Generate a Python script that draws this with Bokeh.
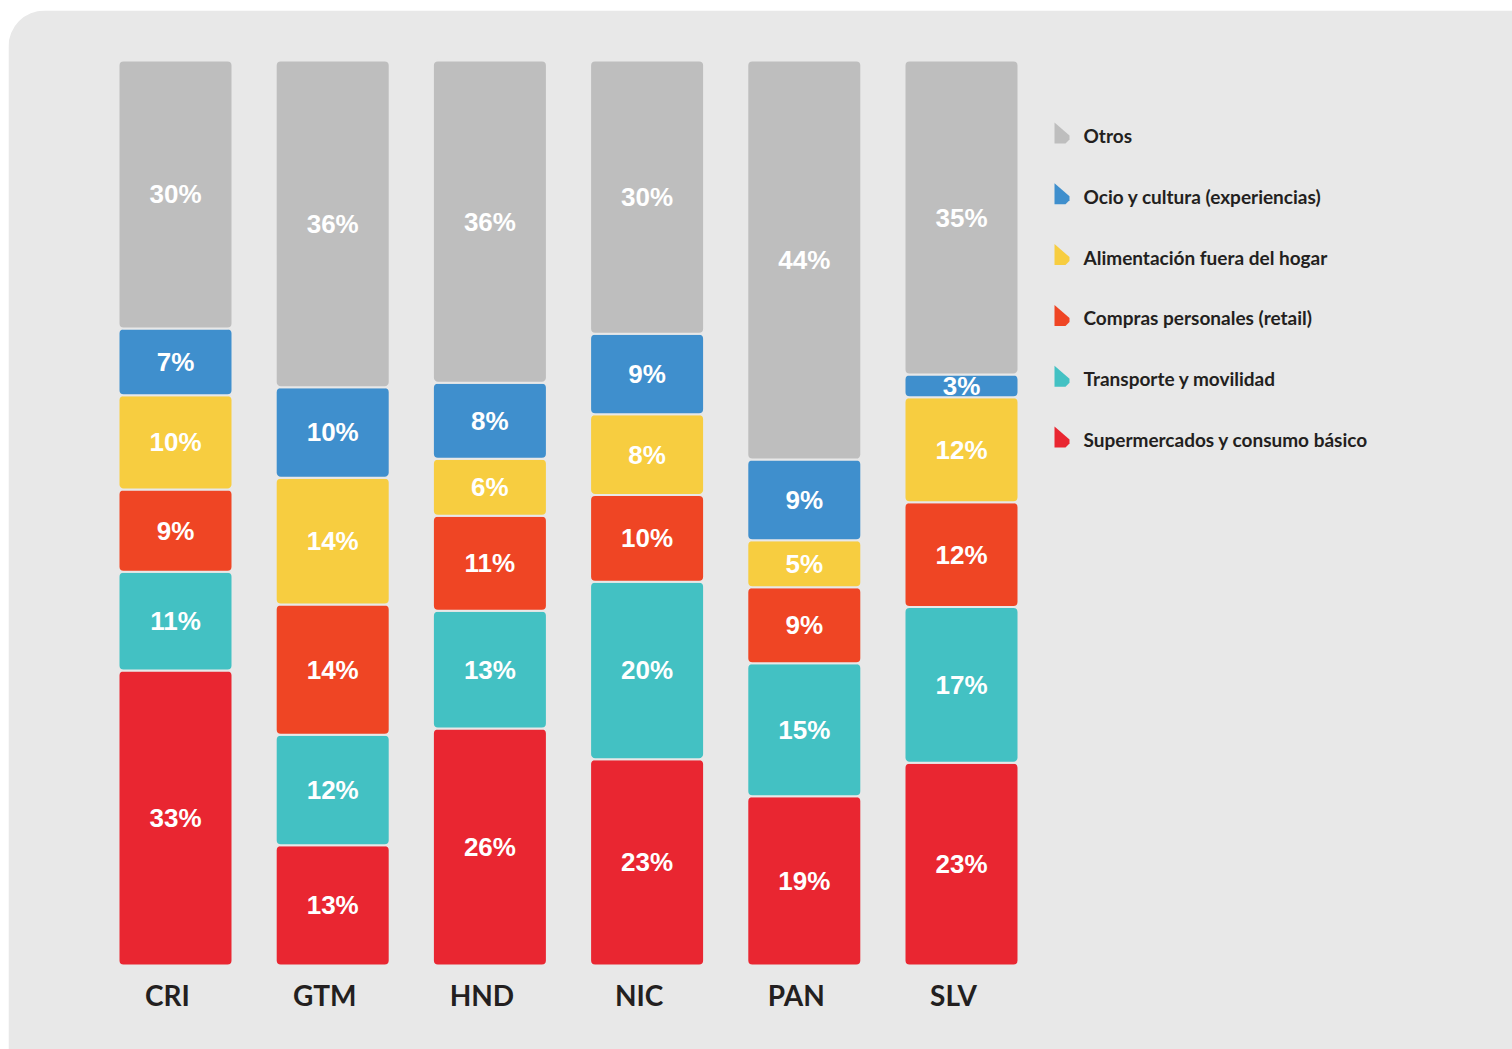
import numpy as np
from bokeh.plotting import figure
from bokeh.models import ColumnDataSource, Range1d, BoxAnnotation
from bokeh.core.properties import value
from bokeh.embed import file_html
from bokeh.resources import INLINE

# ---- data ----
countries = ["CRI", "GTM", "HND", "NIC", "PAN", "SLV"]
segments = ["Supermercados y consumo básico", "Transporte y movilidad",
            "Compras personales (retail)", "Alimentación fuera del hogar",
            "Ocio y cultura (experiencias)", "Otros"]
# shares (%) as drawn
supermercados = [32.6, 13.3, 26.2, 22.8, 18.7, 22.4]
transporte = [10.9, 12.2, 13.0, 19.6, 14.7, 17.2]
compras = [9.1, 14.4, 10.5, 9.6, 8.4, 11.6]
alimentacion = [10.4, 14.0, 6.3, 8.9, 5.2, 11.6]
ocio = [7.4, 10.0, 8.4, 8.9, 8.9, 2.5]
otros = [29.6, 36.1, 35.6, 30.2, 44.1, 34.7]
# printed labels (%)
lbl_supermercados = [33, 13, 26, 23, 19, 23]
lbl_transporte = [11, 12, 13, 20, 15, 17]
lbl_compras = [9, 14, 11, 10, 9, 12]
lbl_alimentacion = [10, 14, 6, 8, 5, 12]
lbl_ocio = [7, 10, 8, 9, 9, 3]
lbl_otros = [30, 36, 36, 30, 44, 35]
colors = ["#e92631", "#43c1c3", "#ef4524", "#f7cd40", "#3f8fcd", "#bebebe"]

series = [supermercados, transporte, compras, alimentacion, ocio, otros]
labels = [lbl_supermercados, lbl_transporte, lbl_compras, lbl_alimentacion, lbl_ocio, lbl_otros]

# ---- layout constants (pixels) ----
W, H = 1512, 1049
PANEL_LEFT, PANEL_TOP = 8, 10
XS = 157.2      # px per category
YS = 9.05       # px per percent
X0 = 175 - PANEL_LEFT   # frame px of first bar centre
Y0 = 965 - PANEL_TOP    # frame px (from top) of zero line
FW, FH = W - PANEL_LEFT, H - PANEL_TOP
BG = "#e8e8e8"
TXT = "#231f20"

p = figure(width=W, height=H, output_backend="svg", toolbar_location=None,
           title=None, x_axis_location=None, y_axis_location=None,
           x_range=Range1d(-X0 / XS, (FW - X0) / XS),
           y_range=Range1d(-(FH - Y0) / YS, Y0 / YS),
           min_border_left=PANEL_LEFT, min_border_top=PANEL_TOP,
           min_border_right=0, min_border_bottom=0)
p.grid.visible = False
p.outline_line_color = None
p.background_fill_color = "white"
p.border_fill_color = "white"

panel = BoxAnnotation(fill_color=BG, fill_alpha=1, line_color=None, level="underlay",
                      border_radius=dict(top_left=36, top_right=0, bottom_right=0, bottom_left=0))
p.add_layout(panel)

xs = np.arange(len(countries), dtype=float)
totals = np.sum(np.array(series, dtype=float), axis=0)
bottom = np.zeros(len(countries))

for name, vals, labs, col in zip(segments, series, labels, colors):
    v = np.array(vals, dtype=float)
    h = v / totals * 100.0
    top = bottom + h
    src = ColumnDataSource(dict(x=xs, bottom=bottom.copy(), top=top.copy(),
                                mid=(bottom + top) / 2,
                                label=[f"{int(a)}%" for a in labs]))
    p.vbar(x="x", bottom="bottom", top="top", width=114 / XS, source=src,
           fill_color=col, line_color=BG, line_width=2, border_radius=5)
    p.text(x="x", y="mid", text="label", source=src, text_color="white",
           text_font=value("Liberation Sans"), text_font_style="bold",
           text_font_size="26px", text_align="center", text_baseline="middle")
    bottom = top

# category labels
csrc = ColumnDataSource(dict(x=xs, y=np.zeros(len(countries)), t=countries))
p.text(x="x", y="y", text="t", source=csrc, text_color=TXT,
       text_font=value("Lato"), text_font_style="bold", text_font_size="28px",
       text_align="center", text_baseline="middle", x_offset=-8, y_offset=29)

# legend (top to bottom: reverse of stacking order)
leg_names = segments[::-1]
leg_cols = colors[::-1]
leg_y_px = [135 + 60.8 * k for k in range(len(leg_names))]


def dx(px):
    return (px - 175) / XS


def dy(py):
    return (965 - py) / YS


shape = [(0, -13), (15, 0), (15, 4), (11, 8), (0, 8)]
pxs, pys = [], []
for yc in leg_y_px:
    pxs.append([dx(1054 + a) for a, b in shape])
    pys.append([dy(yc + b) for a, b in shape])
p.patches(pxs, pys, fill_color=leg_cols, line_color=None)

lsrc = ColumnDataSource(dict(x=[dx(1083)] * len(leg_names), y=[dy(v) for v in leg_y_px], t=leg_names))
p.text(x="x", y="y", text="t", source=lsrc, text_color=TXT,
       text_font=value("Lato"), text_font_style="bold", text_font_size="19px",
       text_align="left", text_baseline="middle")

open("out.html", "w").write(file_html(p, INLINE))
